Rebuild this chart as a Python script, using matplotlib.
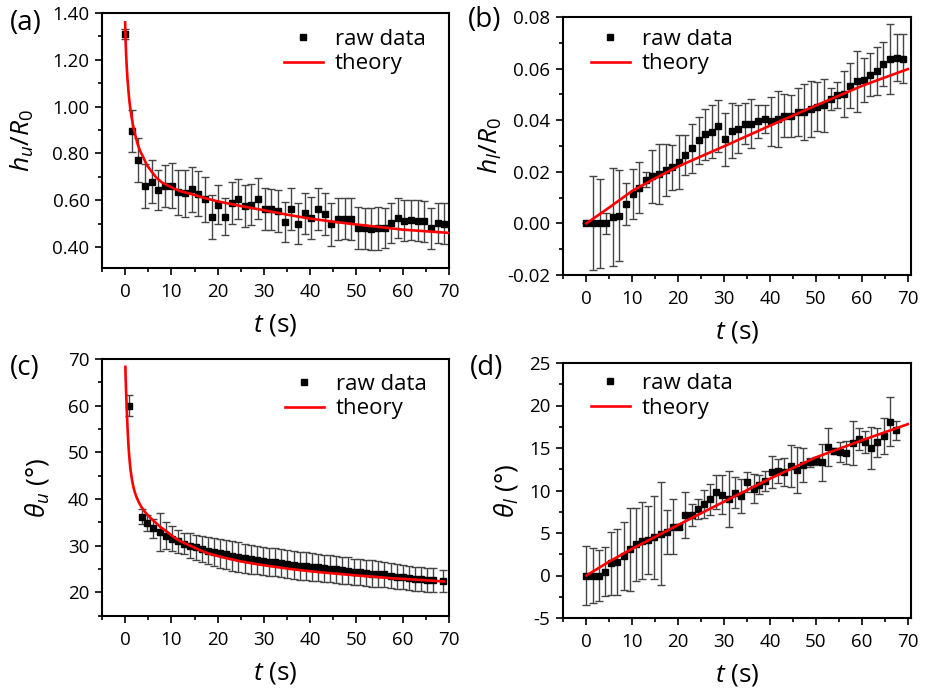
import matplotlib
matplotlib.use("Agg")
import matplotlib.pyplot as plt
from matplotlib.ticker import AutoMinorLocator, FormatStrFormatter, MultipleLocator

plt.rcParams['font.family'] = ['Open Sans', 'DejaVu Sans']
plt.rcParams['mathtext.fontset'] = 'custom'
plt.rcParams['mathtext.rm'] = 'Open Sans'
plt.rcParams['mathtext.it'] = 'Open Sans:italic'
plt.rcParams['mathtext.fallback'] = 'stixsans'
plt.rcParams['axes.unicode_minus'] = False

# ---------------- data ----------------
t_ab = [0, 1.44, 2.88, 4.31, 5.75, 7.19, 8.63, 10.06, 11.5, 12.94, 14.38, 15.81, 17.25,
        18.69, 20.13, 21.56, 23.0, 24.44, 25.88, 27.31, 28.75, 30.19, 31.63, 33.06, 34.5,
        35.94, 37.38, 38.81, 40.25, 41.69, 43.13, 44.56, 46.0, 47.44, 48.88, 50.31, 51.75,
        53.19, 54.63, 56.06, 57.5, 58.94, 60.38, 61.81, 63.25, 64.69, 66.13, 67.56, 69.0]

hu = [1.311, 0.897, 0.771, 0.66, 0.679, 0.643, 0.661, 0.661, 0.633, 0.629, 0.646, 0.627,
      0.603, 0.527, 0.58, 0.529, 0.587, 0.604, 0.576, 0.581, 0.607, 0.564, 0.561, 0.553,
      0.507, 0.564, 0.50, 0.544, 0.524, 0.561, 0.541, 0.496, 0.519, 0.521, 0.519, 0.481,
      0.479, 0.476, 0.479, 0.481, 0.503, 0.524, 0.513, 0.516, 0.513, 0.509, 0.479, 0.503, 0.50]
hu_err = [0.02, 0.09, 0.093, 0.093, 0.093, 0.086, 0.089, 0.096, 0.096, 0.10, 0.096, 0.096,
          0.096, 0.093, 0.084, 0.079, 0.089, 0.085, 0.09, 0.088, 0.086, 0.09, 0.088, 0.09,
          0.086, 0.09, 0.086, 0.088, 0.09, 0.09, 0.088, 0.09, 0.09, 0.088, 0.09, 0.089,
          0.089, 0.089, 0.09, 0.086, 0.086, 0.086, 0.086, 0.086, 0.086, 0.086, 0.086, 0.086, 0.086]
hu_th_t = [0.0, 0.1, 0.22, 0.35, 0.5, 0.7, 0.94, 1.2, 1.44, 1.8, 2.16, 2.7, 3.24, 4.0, 4.7,
           5.8, 6.8, 8.0, 9.0, 10.5, 12, 14, 17, 20, 25, 30, 35, 40, 45, 50, 55, 60, 65, 70]
hu_th = [1.36, 1.28, 1.22, 1.17, 1.12, 1.07, 1.02, 0.98, 0.95, 0.91, 0.88, 0.84, 0.81, 0.78,
         0.75, 0.72, 0.695, 0.675, 0.665, 0.65, 0.638, 0.628, 0.61, 0.595, 0.575, 0.557,
         0.538, 0.521, 0.508, 0.496, 0.485, 0.474, 0.467, 0.46]

hl = [0.0, 0.0, 0.0, 0.0, 0.0026, 0.003, 0.0075, 0.0114, 0.0139, 0.017, 0.0183, 0.0191,
      0.0207, 0.0217, 0.0238, 0.0266, 0.0291, 0.0322, 0.0346, 0.0356, 0.0378, 0.0326,
      0.0359, 0.0366, 0.0387, 0.0387, 0.0395, 0.0405, 0.0395, 0.0405, 0.0418, 0.0416,
      0.0431, 0.0431, 0.0444, 0.0452, 0.0457, 0.0483, 0.0498, 0.0501, 0.0534, 0.0551,
      0.0556, 0.0577, 0.0591, 0.0617, 0.0636, 0.0643, 0.0639]
hl_err = [0.0, 0.0182, 0.0172, 0.004, 0.019, 0.0177, 0.0083, 0.0096, 0.01, 0.003, 0.0103,
          0.0115, 0.0101, 0.0088, 0.0104, 0.0078, 0.0095, 0.0092, 0.0099, 0.0102, 0.01,
          0.0103, 0.0106, 0.0093, 0.0081, 0.0095, 0.0065, 0.0053, 0.0095, 0.0107, 0.0085,
          0.0082, 0.0094, 0.0108, 0.0108, 0.0095, 0.0104, 0.0042, 0.005, 0.0088, 0.0086,
          0.0118, 0.0084, 0.0084, 0.0094, 0.0086, 0.0136, 0.0091, 0.0094]
hl_th_t = [0, 5, 10, 15, 20, 30, 40, 50, 60, 70]
hl_th = [0.0, 0.0062, 0.0126, 0.0175, 0.0221, 0.0299, 0.0379, 0.0457, 0.0533, 0.0598]

t_c = [0.87, 3.61, 4.83, 6.13, 7.43, 8.73, 10.1, 11.4, 12.7, 14.0, 15.3, 16.7, 17.97, 19.3,
       20.6, 21.9, 23.2, 24.5, 25.8, 27.1, 28.4, 29.8, 31.1, 32.4, 33.7, 35.0, 36.4, 37.7,
       39.0, 40.3, 41.6, 43.0, 44.2, 45.5, 46.8, 48.1, 49.5, 50.8, 52.1, 53.4, 54.7, 56.0,
       57.4, 58.7, 60.0, 61.3, 62.6, 63.9, 65.2, 66.5, 68.6]
thu = [60.0, 36.2, 34.8, 33.7, 32.9, 32.1, 31.5, 30.9, 30.4, 30.0, 29.6, 29.3, 28.9, 28.6,
       28.3, 28.1, 27.8, 27.6, 27.3, 27.1, 26.9, 26.7, 26.5, 26.4, 26.2, 26.0, 25.8, 25.7,
       25.6, 25.4, 25.3, 25.1, 25.0, 24.9, 24.7, 24.6, 24.4, 24.3, 24.2, 24.0, 23.9, 23.8,
       23.5, 23.3, 23.2, 23.1, 22.9, 22.8, 22.6, 22.6, 22.4]
thu_err = [2.3, 1.6, 1.7, 2.0, 4.1, 2.9, 2.7, 2.5, 2.3, 2.7, 2.7, 2.8, 2.9, 3.0, 3.1, 3.2,
           3.2, 3.2, 3.1, 3.1, 3.1, 3.1, 3.0, 3.0, 3.0, 3.0, 3.0, 3.0, 3.0, 2.9, 2.9, 2.9,
           2.9, 2.9, 2.9, 2.9, 2.8, 2.8, 2.8, 2.8, 2.7, 2.7, 2.7, 2.7, 2.6, 2.6, 2.6, 2.5,
           2.5, 2.5, 2.4]
thu_th_t = [0.05, 0.12, 0.2, 0.28, 0.35, 0.45, 0.55, 0.7, 0.85, 1.0, 1.2, 1.5, 1.8, 2.1,
            2.5, 3.0, 3.5, 4.3, 5.4, 6.5, 7.6, 9.0, 10.5, 12.0, 14.0, 16.0, 17.7, 21.0, 25.0,
            28.5, 32.0, 35.5, 39.0, 43.0, 46.5, 50.0, 54.0, 57.5, 61.0, 65.0, 69.0]
thu_th = [68.3, 65.6, 63.4, 61.2, 59.2, 56.8, 54.6, 51.8, 49.6, 47.9, 46.0, 44.0, 42.5,
          41.4, 40.3, 39.2, 38.3, 37.2, 36.0, 35.0, 34.0, 33.0, 31.8, 30.9, 30.0, 29.1, 28.4,
          27.5, 26.6, 26.0, 25.5, 25.0, 24.6, 24.2, 23.9, 23.6, 23.3, 23.0, 22.8, 22.55, 22.3]

t_d = [0.0, 1.38, 2.69, 4.05, 5.43, 6.74, 8.1, 9.5, 10.8, 12.2, 13.5, 14.8, 16.2, 17.5,
       18.9, 20.2, 21.5, 22.9, 24.2, 25.6, 26.9, 28.3, 29.6, 31.0, 32.3, 33.7, 35.0, 36.4,
       37.7, 39.0, 40.4, 41.8, 43.1, 44.5, 45.9, 47.2, 48.6, 49.9, 51.3, 52.6, 54.0, 55.3,
       56.6, 58.0, 59.3, 60.7, 62.0, 63.4, 64.8, 66.1, 67.5]
thl = [0.0, 0.0, 0.0, 0.47, 1.45, 1.57, 2.35, 3.1, 3.69, 4.11, 4.19, 4.5, 4.9, 5.13, 5.76,
       5.76, 7.09, 7.09, 7.83, 8.42, 8.97, 9.87, 9.52, 9.0, 9.75, 9.36, 11.0, 10.2, 10.7,
       11.1, 12.2, 12.3, 12.2, 12.9, 12.4, 13.0, 13.3, 13.5, 13.3, 15.1, 14.6, 14.5, 14.45,
       15.6, 16.1, 15.7, 15.0, 15.7, 16.4, 18.1, 17.1]
thl_err = [3.5, 3.27, 3.0, 2.9, 3.7, 3.9, 4.0, 4.9, 4.3, 4.5, 4.0, 4.9, 6.05, 2.6, 3.2, 0.3,
           2.7, 1.3, 1.2, 1.6, 1.8, 2.0, 2.25, 3.3, 1.8, 1.96, 1.2, 1.7, 1.1, 1.2, 1.85, 1.4,
           1.65, 2.5, 2.7, 2.0, 0.5, 0.5, 2.15, 2.2, 0.35, 1.2, 1.35, 2.6, 1.3, 1.3, 2.5,
           1.7, 2.1, 2.9, 1.1]
thl_th_t = [0, 5, 10, 20, 30, 40, 50, 60, 70]
thl_th = [0.0, 1.65, 3.15, 5.95, 8.7, 11.4, 13.9, 15.9, 17.8]

panels = ['(a)', '(b)', '(c)', '(d)']
ylabels = [r'$h_u/R_0$', r'$h_l/R_0$', r'$\theta_u$ (°)', r'$\theta_l$ (°)']
xlabel = r'$t$ (s)'
legend_labels = ['raw data', 'theory']

# ---------------- figure ----------------
W, H = 925, 691
fig = plt.figure(figsize=(W / 100, H / 100), dpi=100)

def rect(l, r, t, b):
    return [l / W, (H - b) / H, (r - l) / W, (b - t) / H]

axs = [fig.add_axes(rect(102, 449, 13, 268)),
       fig.add_axes(rect(563, 911, 17, 275)),
       fig.add_axes(rect(102, 449, 359, 616)),
       fig.add_axes(rect(563, 911, 363, 618))]

series = [(t_ab, hu, hu_err, hu_th_t, hu_th),
          (t_ab, hl, hl_err, hl_th_t, hl_th),
          (t_c, thu, thu_err, thu_th_t, thu_th),
          (t_d, thl, thl_err, thl_th_t, thl_th)]
xlims = [(-5, 70), (-5.1, 70.7), (-5, 70), (-5.1, 70.7)]
ylims = [(0.31, 1.40), (-0.02, 0.08), (14.9, 70), (-5, 25)]
ysteps = [0.2, 0.02, 10, 5]
yfmts = ['%.2f', '%.2f', '%d', '%d']
leg_anchor = [(0.524, 0.937), (0.080, 0.953), (0.527, 0.941), (0.080, 0.960)]
ylabelpads = [11.5, 2.5, 12.5, 6.5]

for i, ax in enumerate(axs):
    t, v, e, tt, tv = series[i]
    ax.errorbar(t, v, yerr=e, fmt='none', ecolor='#454545', elinewidth=1.0,
                capsize=2.6, capthick=1.0, zorder=2)
    ax.plot(t, v, 's', color='black', ms=5, zorder=3, label=legend_labels[0])
    ax.plot(tt, tv, '-', color='#ff0000', lw=1.9, zorder=4, label=legend_labels[1])
    ax.set_xlim(*xlims[i])
    ax.set_ylim(*ylims[i])
    ax.xaxis.set_major_locator(MultipleLocator(10))
    ax.xaxis.set_minor_locator(AutoMinorLocator(2))
    ax.yaxis.set_major_locator(MultipleLocator(ysteps[i]))
    ax.yaxis.set_minor_locator(AutoMinorLocator(2))
    ax.yaxis.set_major_formatter(FormatStrFormatter(yfmts[i]))
    ax.tick_params(which='both', direction='out', top=False, right=False,
                   width=1.2, colors='black', labelsize=13.5)
    ax.tick_params(which='major', length=5, pad=4)
    ax.tick_params(which='minor', length=3)
    ax.tick_params(axis='x', which='major', pad=6)
    for sp in ax.spines.values():
        sp.set_linewidth(1.5)
    ax.set_xlabel(xlabel, fontsize=19, labelpad=7.5)
    ax.set_ylabel(ylabels[i], fontsize=19, labelpad=ylabelpads[i])
    ax.legend(loc='upper left', bbox_to_anchor=leg_anchor[i], frameon=False,
              fontsize=16, borderpad=0, borderaxespad=0, handlelength=1.75,
              handletextpad=0.55, labelspacing=0.15, numpoints=1)

label_pos = [(10, 23), (468, 20), (10, 368), (470, 368)]
for lab, (x, y) in zip(panels, label_pos):
    fig.text(x / W, 1 - y / H, lab, fontsize=20, ha='left', va='center')

fig.savefig('out.png', dpi=100)
